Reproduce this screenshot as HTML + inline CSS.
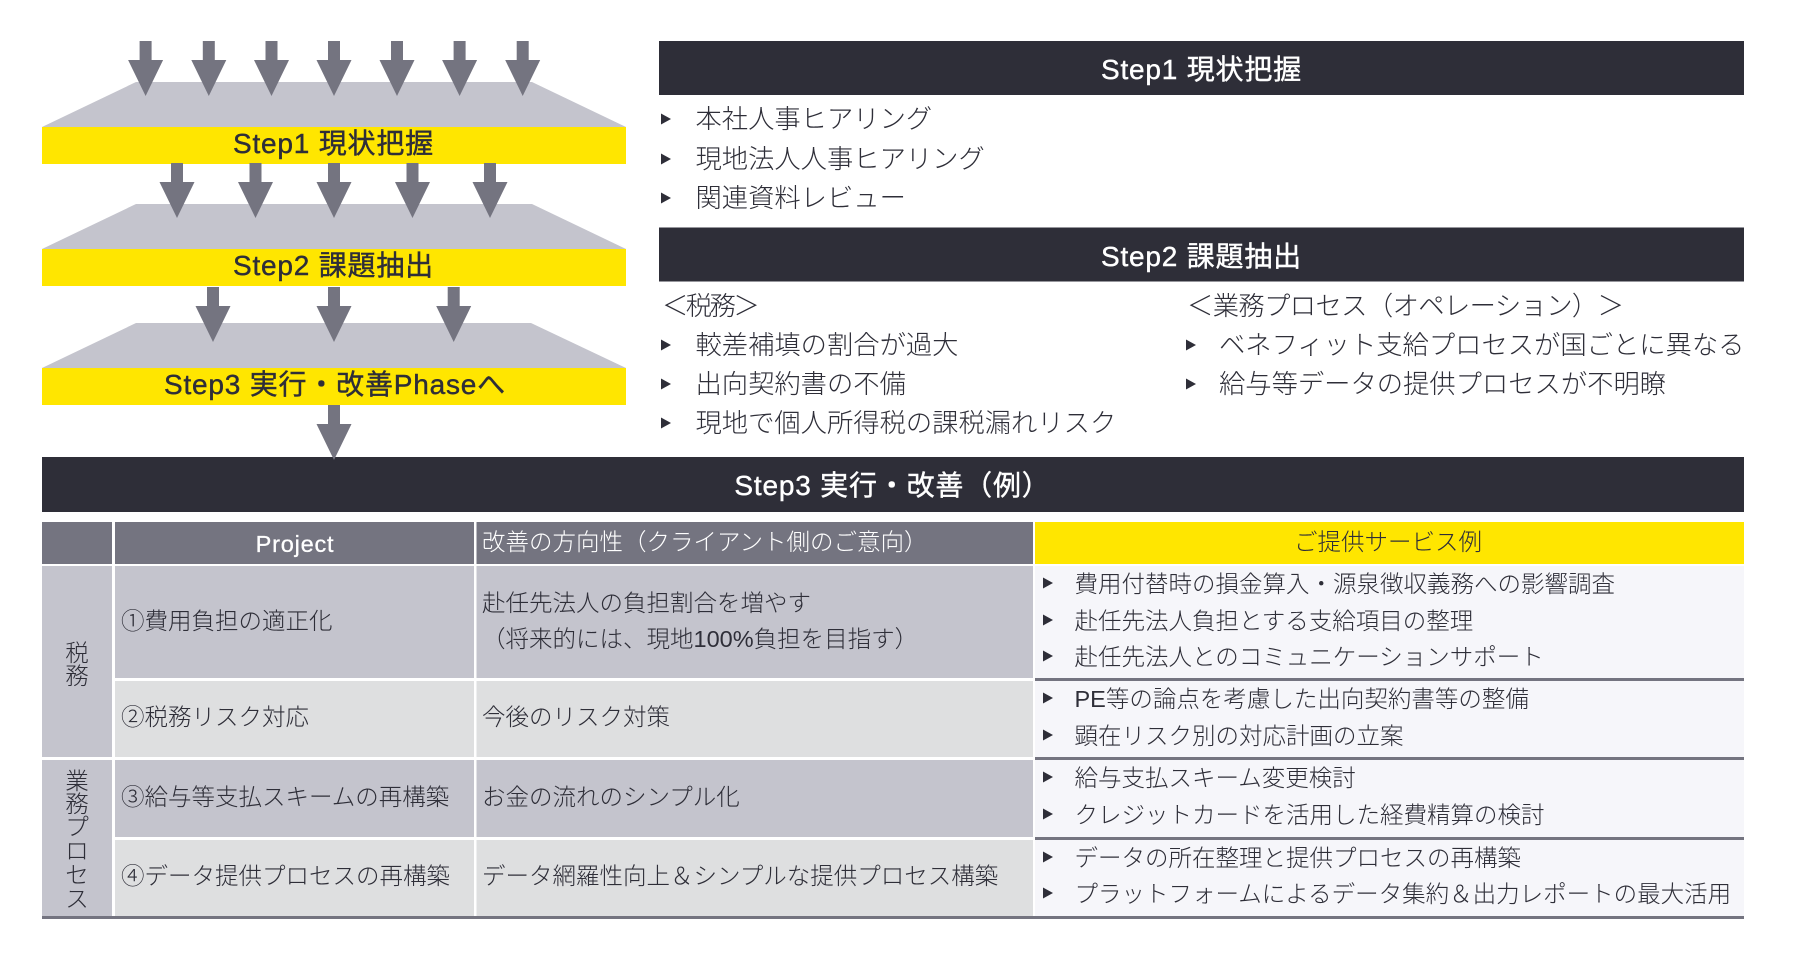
<!DOCTYPE html>
<html lang="ja"><head><meta charset="utf-8"><title>Step diagram</title>
<style>
html,body{margin:0;padding:0;background:#fff;width:1800px;height:971px;overflow:hidden}
svg{display:block}
text{font-family:"Liberation Sans","Noto Sans CJK JP",sans-serif;white-space:pre}
.h{font-size:28px;stroke-width:.4px;letter-spacing:.8px}
.w{fill:#fff;stroke:#fff}
.k{fill:#2e2e38;stroke:#2e2e38}
.l{font-size:26.3px;fill:#2e2e38;font-weight:300}
.t{font-size:23.5px;fill:#2e2e38;font-weight:300}
.m{text-anchor:middle}
</style></head><body>
<svg width="1800" height="971" viewBox="0 0 1800 971" xmlns="http://www.w3.org/2000/svg">
<defs>
<polygon id="a" points="-6,0 6,0 6,19 17.5,19 0,55 -17.5,19 -6,19" fill="#747480"/>
<polygon id="b" points="0,-5.5 10,0 0,5.5" fill="#2e2e38"/>
</defs>
<!-- trapezoids -->
<polygon points="136,82 532,82 626,127 42,127" fill="#c4c4cd"/>
<polygon points="136,204 532,204 626,249 42,249" fill="#c4c4cd"/>
<polygon points="136,323 531,323 626,368 42,368" fill="#c4c4cd"/>
<!-- yellow bands -->
<rect x="42" y="127" width="584" height="37" fill="#ffe600"/>
<rect x="42" y="249" width="584" height="37" fill="#ffe600"/>
<rect x="42" y="368" width="584" height="37" fill="#ffe600"/>
<!-- dark bars -->
<rect x="659" y="41" width="1085" height="54" fill="#2e2e38"/>
<rect x="659" y="227.5" width="1085" height="54" fill="#2e2e38"/>
<rect x="42" y="457" width="1702" height="55" fill="#2e2e38"/>
<!-- arrows -->
<use href="#a" x="145.6" y="41"/><use href="#a" x="208.8" y="41"/><use href="#a" x="271.5" y="41"/><use href="#a" x="334" y="41"/><use href="#a" x="397" y="41"/><use href="#a" x="459.6" y="41"/><use href="#a" x="522.7" y="41"/>
<use href="#a" x="177" y="163"/><use href="#a" x="255.5" y="163"/><use href="#a" x="334" y="163"/><use href="#a" x="412.5" y="163"/><use href="#a" x="490" y="163"/>
<use href="#a" x="213" y="287"/><use href="#a" x="334" y="287"/><use href="#a" x="453.7" y="287"/>
<use href="#a" x="334" y="405"/>
<!-- left labels -->
<text class="h k" x="233" y="153">Step1 現状把握</text>
<text class="h k" x="233" y="275">Step2 課題抽出</text>
<text class="h k" x="164" y="394">Step3 実行・改善Phaseへ</text>
<!-- header labels -->
<text class="h w" x="1101" y="79">Step1 現状把握</text>
<text class="h w" x="1101" y="266">Step2 課題抽出</text>
<text class="h w m" x="892.5" y="495">Step3 実行・改善（例）</text>
<!-- step1 list -->
<use href="#b" x="661" y="119"/><text class="l" x="695.5" y="128">本社人事ヒアリング</text>
<use href="#b" x="661" y="159"/><text class="l" x="695.5" y="168">現地法人人事ヒアリング</text>
<use href="#b" x="661" y="198"/><text class="l" x="695.5" y="207">関連資料レビュー</text>
<!-- step2 lists -->
<text class="l" x="662" y="315" style="letter-spacing:-2.5px">＜税務＞</text>
<use href="#b" x="661" y="345"/><text class="l" x="695.5" y="354">較差補填の割合が過大</text>
<use href="#b" x="661" y="384"/><text class="l" x="695.5" y="393">出向契約書の不備</text>
<use href="#b" x="661" y="423"/><text class="l" x="695.5" y="432">現地で個人所得税の課税漏れリスク</text>
<text class="l" x="1187" y="315" style="letter-spacing:-.6px">＜業務プロセス（オペレーション）＞</text>
<use href="#b" x="1195" y="345" transform="translate(-9 0)"/><text class="l" x="1219" y="354">ベネフィット支給プロセスが国ごとに異なる</text>
<use href="#b" x="1195" y="384" transform="translate(-9 0)"/><text class="l" x="1219" y="393">給与等データの提供プロセスが不明瞭</text>
<!-- table header -->
<rect x="42" y="522" width="70" height="42" fill="#747480"/>
<rect x="115" y="522" width="359" height="42" fill="#747480"/>
<rect x="476.5" y="522" width="556.5" height="42" fill="#747480"/>
<rect x="1035" y="522" width="709" height="42" fill="#ffe600"/>
<!-- side col -->
<rect x="42" y="566" width="70" height="191" fill="#c4c4cd"/>
<rect x="42" y="760" width="70" height="156" fill="#c4c4cd"/>
<!-- rows -->
<rect x="115" y="566" width="359" height="112" fill="#c4c4cd"/><rect x="476.5" y="566" width="556.5" height="112" fill="#c4c4cd"/>
<rect x="115" y="681" width="359" height="76" fill="#dedfe0"/><rect x="476.5" y="681" width="556.5" height="76" fill="#dedfe0"/>
<rect x="115" y="760" width="359" height="77" fill="#c4c4cd"/><rect x="476.5" y="760" width="556.5" height="77" fill="#c4c4cd"/>
<rect x="115" y="840" width="359" height="76" fill="#dedfe0"/><rect x="476.5" y="840" width="556.5" height="76" fill="#dedfe0"/>
<rect x="1035" y="566" width="709" height="350" fill="#f6f6fa"/>
<!-- rules -->
<rect x="1035" y="678" width="709" height="3" fill="#747480"/>
<rect x="1035" y="757" width="709" height="3" fill="#747480"/>
<rect x="1035" y="837" width="709" height="3" fill="#747480"/>
<rect x="42" y="916" width="1702" height="3" fill="#747480"/>
<!-- table header text -->
<text class="t m" x="295" y="552" style="fill:#fff;font-weight:400;stroke:#fff;stroke-width:.3px;letter-spacing:.8px">Project</text>
<text class="t" x="482" y="550" style="fill:#fff">改善の方向性（クライアント側のご意向）</text>
<text class="t m" x="1388" y="550" style="fill:#2e2e38">ご提供サービス例</text>
<!-- side labels -->
<text class="t m" x="77" y="661">税</text><text class="t m" x="77" y="684">務</text>
<text class="t m" x="77" y="789">業</text><text class="t m" x="77" y="812">務</text><text class="t m" x="77" y="835">プ</text><text class="t m" x="77" y="859">ロ</text><text class="t m" x="77" y="883">セ</text><text class="t m" x="77" y="907">ス</text>
<!-- col 2 -->
<text class="t" x="121" y="629">①費用負担の適正化</text>
<text class="t" x="121" y="725">②税務リスク対応</text>
<text class="t" x="121" y="805">③給与等支払スキームの再構築</text>
<text class="t" x="121" y="884">④データ提供プロセスの再構築</text>
<!-- col 3 -->
<text class="t" x="482" y="611">赴任先法人の負担割合を増やす</text>
<text class="t" x="482" y="647">（将来的には、現地100%負担を目指す）</text>
<text class="t" x="482" y="725">今後のリスク対策</text>
<text class="t" x="482" y="805">お金の流れのシンプル化</text>
<text class="t" x="482" y="884">データ網羅性向上＆シンプルな提供プロセス構築</text>
<!-- col 4 -->
<use href="#b" x="1043" y="583"/><text class="t" x="1074.5" y="592">費用付替時の損金算入・源泉徴収義務への影響調査</text>
<use href="#b" x="1043" y="620"/><text class="t" x="1074.5" y="629">赴任先法人負担とする支給項目の整理</text>
<use href="#b" x="1043" y="656"/><text class="t" x="1074.5" y="665">赴任先法人とのコミュニケーションサポート</text>
<use href="#b" x="1043" y="698"/><text class="t" x="1074.5" y="707">PE等の論点を考慮した出向契約書等の整備</text>
<use href="#b" x="1043" y="735"/><text class="t" x="1074.5" y="744">顕在リスク別の対応計画の立案</text>
<use href="#b" x="1043" y="777"/><text class="t" x="1074.5" y="786">給与支払スキーム変更検討</text>
<use href="#b" x="1043" y="814"/><text class="t" x="1074.5" y="823">クレジットカードを活用した経費精算の検討</text>
<use href="#b" x="1043" y="857"/><text class="t" x="1074.5" y="866">データの所在整理と提供プロセスの再構築</text>
<use href="#b" x="1043" y="893"/><text class="t" x="1074.5" y="902">プラットフォームによるデータ集約＆出力レポートの最大活用</text>
</svg>
</body></html>
